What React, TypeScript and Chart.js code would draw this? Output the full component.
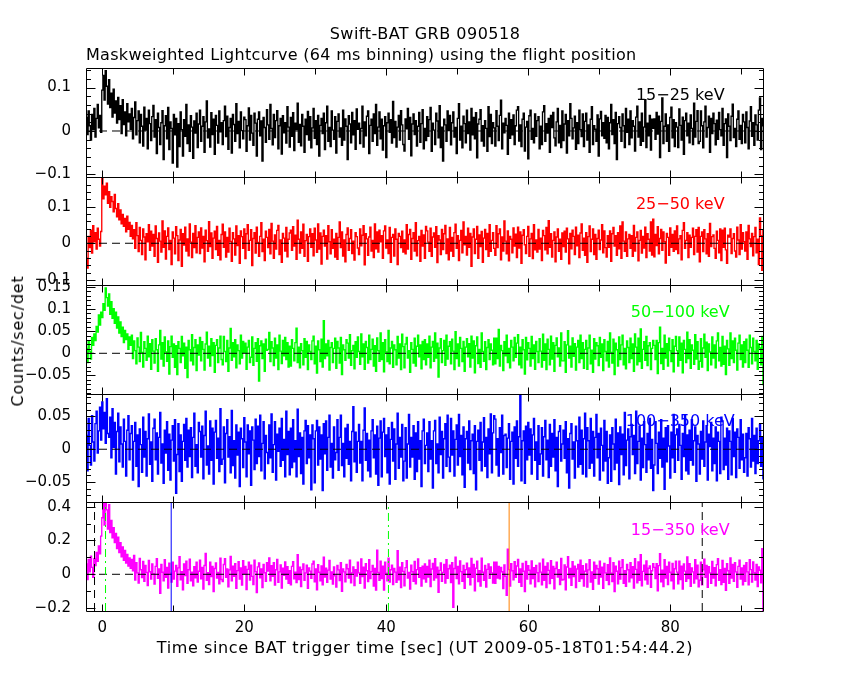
import React, { useEffect, useRef } from 'react';
import { Chart, registerables } from 'chart.js';

Chart.register(...registerables);

// Light-curve bins (re-binned for drawing): start time and bin width in seconds
const BIN_START = -2.24;
const BIN_WIDTH = 0.16;

// Counts/sec/det per band (20 bins = 3.2 s per row)
const RATE_15_25 = [
  .031,-.008,.046,.012,-.021,.038,.004,.052,-.014,.029,.061,.007,.036,-.003,.094,.128,.071,.139,.103,.062,
  .118,.054,.087,.032,.096,.041,.069,.018,.077,.026,.058,-.006,.072,.015,.044,-.011,.063,.021,.039,.004,
  .052,-.018,.031,.067,-.009,.024,.046,-.027,.038,.011,-.035,.055,.002,.029,-.041,.048,.017,-.022,.033,.059,
  -.014,.026,-.052,.041,.008,-.031,.019,.047,-.066,.012,.035,-.018,.054,-.043,.021,.006,-.074,.038,-.009,.029,
  -.083,.017,-.036,.044,.003,-.058,.026,-.012,.061,-.029,.014,-.047,.035,.009,-.063,.023,-.005,.041,-.038,.016,
  .048,-.024,.011,.033,-.049,.021,.069,-.016,.005,-.037,.042,-.008,.027,-.054,.036,.013,-.028,.046,-.002,.019,
  -.031,.024,.057,-.013,.034,-.042,.008,.029,-.051,.038,.015,-.024,.063,-.006,.022,-.039,.044,.001,-.018,.032,
  .026,-.047,.012,.053,-.021,.036,-.005,-.033,.041,.018,-.058,.027,.044,-.011,.023,-.069,.031,.008,-.026,.049,
  .014,-.019,.061,.006,-.032,.038,-.015,.024,.047,-.041,.012,.029,-.053,.035,-.004,.019,-.028,.056,.009,-.037,
  .031,-.012,.042,-.045,.018,.003,.064,-.026,.015,-.034,.038,.011,-.049,.027,-.008,.045,-.021,.033,-.039,.007,
  .052,-.017,.024,-.031,.036,-.058,.013,.029,-.006,.041,-.043,.019,.057,-.024,.008,-.036,.046,.002,-.019,.033,
  -.051,.022,.039,-.014,.007,-.033,.048,-.021,.028,.011,-.066,.035,.016,-.027,.043,-.009,.024,-.042,.051,.004,
  .018,-.029,.006,.057,-.037,.021,-.011,.034,.046,-.052,.013,.027,-.024,.039,-.006,.061,-.033,.009,.044,-.018,
  .027,-.044,.012,.033,-.061,.019,.041,-.003,.026,-.028,.068,-.015,.022,-.037,.009,.036,-.021,.047,.014,-.031,
  -.046,.028,.005,.052,-.019,.031,-.057,.016,.039,-.008,.024,-.035,.011,.043,-.026,.017,.049,-.041,.006,-.022,
  .033,-.012,.026,.054,-.047,.018,.002,-.031,.041,.023,-.016,.058,-.038,.009,-.069,.027,.014,-.024,.046,.001,
  .036,-.032,.019,.044,-.014,.008,-.052,.029,.063,-.021,.011,-.039,.034,.017,-.027,.048,-.006,.021,-.044,.052,
  -.009,.031,-.018,.042,-.062,.016,.027,.049,-.023,.012,-.035,.024,.006,-.047,.056,-.013,.038,-.029,.019,.007,
  -.035,.047,.011,-.022,.036,.071,-.041,.018,-.004,.029,.013,-.054,.041,-.017,.026,-.009,.037,-.031,.012,.048,
  .056,-.023,.014,-.036,.027,.041,-.046,.009,.022,-.064,.035,.048,-.019,.006,-.027,.039,-.012,.024,.033,-.041,
  .011,-.031,.044,.058,-.024,.017,-.005,.029,-.049,.036,.008,.043,-.016,-.034,.021,.052,-.027,.013,-.038,.046,
  -.022,.016,.038,-.051,.024,-.011,.063,.029,-.018,.007,.034,-.042,.019,-.029,.048,.003,-.013,.039,-.036,.022,
  .041,-.021,.014,-.049,.027,.056,-.031,.012,.004,-.024,.037,-.058,.028,.045,-.011,.019,-.017,.036,-.027,.031,
  -.041,.019,.061,-.008,.026,-.029,.043,-.066,.017,.033,.008,-.024,.039,.012,-.038,.052,-.003,.027,-.031,.046,
  -.016,.024,.011,-.046,.032,.057,-.014,.021,-.033,.041,-.024,.009,.072,-.038,.018,-.011,.036,-.044,.027,.006,
  .028,-.019,.043,-.007,.034,-.061,.022,.076,-.029,.011,.039,-.024,.014,-.047,.031,.055,-.016,.026,-.036,.019,
  .009,-.038,.051,.013,-.021,.032,-.054,.024,.041,-.011,.018,-.027,.037,.006,-.031,.064,-.014,.022,.047,-.029,
  -.024,.046,.012,-.039,.021,.057,-.014,.008,.034,-.049,.029,-.006,.041,.017,-.032,.025,-.019,.043,.003,-.011,
  .052,-.033,.017,.028,-.061,.039,.011,-.022,.034,.062,-.015,.006,-.036,.027,.046,-.019,.013,-.029,.038,.021,
  -.027,.044,.008,-.041,.023,.056,-.012,.019,-.033,.037,.014,-.021,.048,.076,-.043,.029,.012,-.024,.034,.019,
];

const RATE_25_50 = [
  -.041,-.068,.019,-.012,.036,-.027,.048,.004,.029,-.016,.041,.011,-.008,.032,.178,.121,.156,.132,.164,.109,
  .141,.098,.127,.114,.086,.133,.095,.072,.108,.064,.091,.053,.079,.046,.068,.031,.074,.038,.057,.019,
  .049,.012,.037,-.014,.056,.021,-.023,.043,.008,-.031,.039,.017,-.045,.026,.004,.051,-.019,.033,-.008,.024,
  -.036,.047,.013,-.052,.028,.006,-.024,.061,-.011,.034,-.043,.019,.042,-.017,.008,-.058,.031,.014,-.029,.045,
  .021,-.047,.009,.038,-.063,.026,-.005,.044,-.021,.012,-.034,.053,.003,-.039,.027,-.012,.048,-.026,.016,.031,
  -.028,.042,-.013,.019,-.051,.036,.007,-.022,.059,-.009,.028,-.041,.014,.033,-.017,.046,-.033,.008,-.045,.024,
  .052,-.011,.031,-.038,.016,-.024,.041,.005,-.049,.029,.012,-.032,.047,-.006,.021,-.055,.034,.018,-.014,.039,
  -.042,.026,.051,-.019,.008,.037,-.061,.013,.029,-.027,.044,.002,-.036,.019,.056,-.023,.011,-.047,.033,.016,
  -.012,.038,-.029,.054,.006,-.041,.023,-.016,.035,.049,-.031,.009,-.052,.027,.014,-.021,.043,-.037,.011,.028,
  .036,-.019,.045,-.008,.022,-.044,.063,.011,-.027,.031,-.014,.052,-.036,.007,.024,-.049,.018,.039,-.011,.026,
  -.034,.041,.009,-.025,.053,-.016,.028,-.057,.019,.036,-.008,.021,-.043,.048,.004,-.029,.037,-.014,.011,-.038,
  .027,-.044,.016,.058,-.012,.031,-.035,.009,-.051,.024,.042,-.019,.013,.037,-.028,.006,-.046,.029,.018,-.013,
  -.031,.039,-.007,.022,.048,-.059,.026,.012,-.033,.017,.044,-.021,.008,-.039,.053,-.015,.031,-.024,.036,.004,
  .021,-.041,.034,.047,-.013,.009,-.028,.043,-.052,.016,.024,-.035,.039,.011,-.058,.027,.019,-.012,.033,-.024,
  .009,-.029,.051,-.016,.024,.038,-.044,.013,.029,-.021,.056,-.034,.007,.019,-.049,.035,-.008,.023,-.041,.046,
  .034,.003,-.022,.041,-.036,.017,.028,-.011,.045,-.053,.021,.009,-.031,.038,-.017,.026,.049,-.028,.012,-.045,
  .043,-.021,.016,-.036,.029,.052,-.014,.021,-.047,.008,.035,-.026,.058,-.004,.019,-.032,.041,-.011,.027,-.063,
  .017,.039,-.028,.011,.046,-.041,.023,-.009,.032,-.052,.014,.038,-.017,.027,-.036,.051,-.022,.008,.029,-.014,
  -.033,.048,-.012,.026,.039,-.045,.017,-.021,.061,.006,-.029,.034,-.048,.019,.011,-.026,.042,-.008,.025,-.039,
  .044,-.013,.031,-.055,.022,.037,-.004,-.028,.019,.046,-.036,.012,.027,-.042,.051,-.018,.009,-.024,.038,-.016,
  .014,-.047,.035,.021,-.018,.043,-.029,.062,-.011,.026,-.038,.008,.031,-.051,.017,.039,-.022,.011,-.044,.028,
  -.009,.033,-.024,.041,.012,-.056,.027,-.015,.036,.019,-.031,.044,-.007,.022,-.039,.028,.053,-.019,.014,-.033,
  .029,-.052,.018,.047,-.023,.011,.039,-.031,.024,-.044,.013,.036,-.017,.009,.051,-.026,.034,-.012,-.038,.021,
  -.011,.034,-.049,.026,.043,-.008,.021,-.033,.029,-.015,.047,-.041,.058,.006,-.022,.031,-.036,.012,.024,-.014,
  .021,-.036,.049,-.021,.016,.031,-.048,.008,.035,-.027,.019,-.013,.044,-.039,.026,.011,-.021,.058,-.032,.066,
  -.037,.024,-.006,.045,-.029,.013,.038,-.019,.031,.004,-.054,.027,.016,-.033,.042,-.011,.024,-.022,.034,-.017,
  .047,-.028,.012,.021,-.045,.035,.056,-.014,.008,.029,-.039,.022,-.011,.016,.041,-.031,.019,.037,-.024,.043,
  -.051,.019,.031,-.023,.037,.012,-.029,.026,-.036,.054,-.009,.018,.023,-.014,-.041,.033,.008,-.026,.039,-.047,
  .036,-.011,.041,-.018,-.055,.022,.017,.039,-.028,.013,.026,-.021,-.038,.044,.009,-.031,.051,-.016,.029,.004,
  -.021,.031,-.044,.049,.012,-.009,.027,-.034,.018,.043,-.026,.011,-.058,.069,.021,-.074,.036,.014,-.028,.019,
];

const RATE_50_100 = [
  .011,-.021,.027,.004,-.013,.036,.018,.044,.029,.061,.048,.087,.064,.093,.081,.112,.097,.148,.126,.107,
  .134,.088,.117,.079,.101,.068,.093,.057,.082,.046,.071,.038,.059,.024,.052,.031,.044,.009,.037,.018,
  .041,-.012,.028,.006,-.024,.035,.014,-.019,.047,.002,-.031,.026,.011,-.016,.039,-.008,.022,-.036,.031,.005,
  -.022,.033,.008,-.041,.019,.052,-.013,.024,-.029,.037,.003,-.018,.028,-.047,.015,.039,-.009,.021,-.032,.017,
  -.048,.026,.011,-.021,.038,-.006,.023,-.034,.014,-.055,.029,.008,-.017,.042,-.026,.013,.031,-.039,.019,-.004,
  .036,-.017,.026,.009,-.038,.021,.048,-.011,.016,-.029,.033,-.005,.024,-.043,.018,.031,-.021,.012,.039,-.014,
  -.026,.038,.004,-.019,.029,-.041,.012,.056,-.016,.024,-.008,.031,-.033,.019,.006,-.024,.041,-.011,.027,.002,
  .023,-.036,.014,.029,-.021,-.009,.037,-.027,.011,.024,-.018,.033,-.063,.017,.028,-.012,.021,-.041,.032,.007,
  .009,.047,-.019,.026,.012,-.028,.034,-.011,.019,-.037,.041,.005,-.023,.029,-.006,.036,-.014,.024,-.031,.016,
  -.029,.031,.011,-.017,.024,.057,-.021,.014,-.033,.022,.006,-.026,.033,-.009,.027,-.037,.019,.004,-.014,.028,
  .039,-.024,.016,-.045,.028,.008,-.019,.032,-.031,.074,-.012,.021,-.006,.029,-.038,.013,.024,-.021,.011,.034,
  -.034,.027,.012,-.022,.036,-.048,.019,.008,-.016,.031,.023,-.011,.042,-.027,.006,.018,-.035,.026,-.009,.037,
  .004,-.025,.044,-.008,.021,-.036,.027,.013,-.022,.041,-.014,.009,.032,-.029,.017,-.041,.035,.006,-.018,.046,
  -.014,.024,-.042,.031,.003,-.019,.052,-.024,.012,.027,-.032,.019,.008,-.026,.038,-.011,.021,-.037,.043,.015,
  -.033,.021,.036,-.011,.006,-.043,.024,.009,-.022,.034,-.029,.016,.041,-.008,.019,-.035,.027,-.014,.031,-.026,
  .021,-.009,.039,-.033,.014,.027,-.018,.046,-.011,.023,-.054,.012,.033,-.021,.006,.029,-.027,.041,-.013,.016,
  .026,-.024,.032,.005,-.037,.049,-.012,.021,-.029,.036,.011,-.019,.027,-.041,.014,.033,-.008,.022,-.031,.039,
  -.011,.028,-.044,.017,.037,-.023,.009,-.032,.046,.004,-.018,.026,-.037,.013,.031,-.014,.021,.007,-.026,.034,
  -.024,.034,-.012,.054,-.029,.018,.006,-.039,.026,-.006,.041,-.021,.011,-.033,.029,.014,-.017,.036,-.009,.023,
  .042,-.026,.014,-.033,.031,.008,-.047,.036,-.015,.024,.011,-.029,.038,-.012,.019,-.036,.027,.004,-.021,.033,
  .005,-.031,.043,-.016,.021,-.037,.032,.009,-.026,.039,-.013,.024,-.041,.018,.035,-.008,.012,-.029,.046,-.017,
  -.017,.026,-.043,.019,.051,-.011,.016,-.031,.035,-.007,.022,-.038,.014,.029,-.021,.041,-.012,.024,-.034,.009,
  .029,-.036,.012,.041,-.024,.007,-.043,.033,-.013,.024,.017,-.028,.036,-.009,.021,-.039,.031,.004,-.017,.027,
  -.031,.046,.002,-.022,.032,-.048,.023,.008,-.029,.037,-.014,.019,.041,-.026,.011,-.035,.028,.013,-.021,.034,
  -.012,.021,-.041,.044,.014,-.026,.034,-.019,.055,-.034,.009,.026,-.016,.038,-.028,.017,.024,-.037,.011,.029,
  .018,-.014,.029,-.046,.024,.059,-.023,.011,-.036,.041,-.011,.022,-.029,.034,.006,-.019,.031,-.042,.016,.038,
  .006,-.029,.037,-.016,.023,-.044,.029,.009,-.021,.048,-.012,.031,-.034,.019,.007,-.025,.042,-.013,.026,-.036,
  -.018,.033,-.031,.012,.043,-.009,.025,-.039,.021,.003,-.026,.037,-.011,.019,-.033,.028,.046,-.017,.013,-.029,
  .038,-.025,.016,-.048,.029,.010,-.027,.046,-.012,.028,-.021,.034,.007,-.038,.023,.041,-.014,.019,-.031,.026,
  -.021,.032,.007,-.032,.041,.013,-.024,.034,.004,-.017,.029,-.036,.021,.012,-.026,.038,-.071,.019,-.009,.022,
];

const RATE_100_350 = [
  .021,-.033,.047,.006,-.024,.051,.011,-.018,.039,.058,-.006,.028,.064,.014,.072,.031,.056,.009,.077,.024,
  .018,.049,-.013,.062,.003,.041,-.038,.027,.055,-.019,.034,.008,-.027,.046,.012,-.041,.029,.051,-.016,.024,
  .036,-.047,.012,.041,-.026,.022,-.057,.031,.007,-.035,.049,-.012,.027,-.041,.016,.054,-.023,.011,-.049,.032,
  .046,-.016,.025,-.038,.018,.056,-.021,.008,-.052,.029,-.006,.042,-.032,.023,-.047,.014,.036,-.018,.045,-.067,
  -.008,.039,-.034,.022,-.049,.012,.038,-.017,.047,-.027,.029,-.011,.033,-.043,.018,.055,-.026,.007,-.036,.041,
  .027,-.012,.035,-.045,.021,.058,-.024,.005,-.038,.043,-.017,.032,-.053,.026,.044,-.014,.017,-.034,.062,-.023,
  -.015,.034,-.051,.024,.045,-.012,.019,-.036,.059,-.025,.013,-.044,.037,-.009,.026,-.057,.032,.016,-.028,.048,
  .011,-.042,.037,-.007,.028,-.055,.034,.014,-.031,.046,-.022,.035,-.011,.052,-.033,.009,.042,-.045,.021,-.005,
  -.022,.037,-.013,.054,-.035,.007,.042,-.047,.023,-.003,.032,-.026,.047,-.017,.015,-.042,.058,-.008,.027,-.039,
  .032,-.028,.045,-.019,.013,-.042,.061,-.011,.025,-.037,.018,-.053,.028,.044,-.022,.036,-.013,.022,-.062,.037,
  .016,-.051,.028,.044,-.024,.034,-.015,.022,-.063,.039,-.007,.043,-.032,.018,.052,-.027,.009,-.044,.034,-.016,
  -.005,.045,-.032,.018,.052,-.025,.009,-.042,.032,-.014,.038,-.023,.012,-.048,.027,.065,-.019,.026,-.035,.012,
  .038,-.021,.012,-.048,.029,.063,-.017,.024,-.033,.014,-.042,.028,.045,-.013,.022,-.038,.035,-.055,.017,.043,
  -.042,.026,.047,-.011,.022,-.036,.033,-.053,.015,.041,-.018,.031,-.046,.008,.055,-.029,.018,-.012,.038,-.048,
  -.018,.033,-.044,.008,.053,-.027,.018,-.012,.036,-.046,.025,-.034,.042,-.015,.013,-.057,.028,.046,-.022,.006,
  .025,-.034,.042,-.015,.013,-.059,.028,.044,-.022,.008,-.036,.049,-.008,.027,-.044,.016,.039,-.026,.052,-.012,
  -.034,.047,-.009,.028,-.041,.015,.037,-.024,.053,-.011,.021,-.039,.034,-.058,.016,.027,-.021,.043,-.031,.013,
  .023,-.037,.036,-.062,.012,.029,-.017,.041,-.033,.011,.048,-.026,.018,-.043,.031,-.007,.054,-.036,.025,.051,
  .046,-.024,.016,-.041,.033,-.005,.052,-.038,.021,.023,-.028,.017,.039,-.046,.012,.026,-.053,.034,-.014,.043,
  -.026,.019,.084,-.048,.013,.028,-.052,.035,-.016,.041,-.009,.031,-.038,.022,.047,-.017,.011,-.046,.036,-.023,
  -.007,.033,-.041,.019,.044,-.016,.014,-.043,.038,-.026,.024,-.012,.045,-.033,.018,-.057,.027,.036,-.018,.008,
  .029,-.014,.042,-.036,.016,-.059,.024,.039,-.015,.011,-.044,.035,.013,-.027,.049,-.023,.029,-.038,.016,.055,
  -.042,.033,.013,-.029,.047,-.021,.027,-.041,.018,.053,-.013,.024,-.047,.032,.006,-.033,.044,-.018,.027,-.052,
  -.013,.022,-.049,.033,.008,-.031,.046,-.021,.025,-.054,.034,-.008,.023,-.039,.056,-.025,.014,.031,-.045,.019,
  .038,-.008,.021,-.037,.058,-.022,.012,.035,-.047,.017,-.028,.042,.007,-.035,.024,-.016,.047,-.029,.015,-.063,
  -.024,.042,.009,-.037,.026,-.014,.045,-.027,.017,-.061,.033,-.019,.036,.005,-.044,.026,-.013,.053,-.035,.022,
  .031,-.017,.038,.006,-.046,.024,-.011,.051,-.033,.022,-.038,.029,-.017,.045,-.024,.013,.034,-.049,.021,.008,
  -.038,.027,-.015,.043,-.026,.011,.036,-.047,.023,.004,.041,-.033,.017,-.022,.034,-.048,.026,.012,-.037,.049,
  .043,-.031,.017,-.024,.032,-.046,.028,.012,-.039,.047,-.011,.026,-.043,.031,.018,-.029,.045,-.016,.023,-.035,
  -.013,.024,-.041,.033,.016,-.027,.047,-.018,.021,-.037,.032,-.022,.013,.038,-.026,.019,-.045,.027,.008,-.018,
];

const RATE_15_350 = [
  .062,-.031,.088,.014,.107,.041,-.018,.093,.052,.129,.076,.168,.121,.226,.334,.452,.291,.436,.381,.268,
  .412,.247,.318,.215,.276,.188,.241,.152,.219,.128,.187,.104,.162,.083,.141,.067,.118,.049,.097,.036,
  .088,.021,.112,-.034,.069,.008,-.052,.094,.027,-.019,.076,-.041,.053,.011,-.067,.082,.015,-.028,.061,.004,
  -.058,.047,.093,-.024,.031,-.112,.058,.012,-.039,.086,-.018,.041,-.081,.066,.007,-.046,.072,-.029,.019,.053,
  -.071,.038,.104,-.033,.016,-.092,.061,-.008,.077,-.054,.027,.089,-.038,.012,-.068,.045,-.021,.071,-.046,.018,
  .083,-.027,.041,-.088,.052,.124,-.035,.009,-.061,.072,-.014,.046,-.102,.034,.067,-.023,.011,-.057,.095,-.031,
  -.043,.058,.092,-.018,.031,-.074,.026,.106,-.039,.048,-.012,.063,-.083,.022,.074,-.028,.037,-.064,.081,.004,
  .046,-.091,.029,.072,-.034,.054,-.012,-.061,.083,.016,-.108,.044,.067,-.021,.031,-.079,.058,.009,-.042,.069,
  .019,.097,-.038,.051,-.012,.068,-.064,.027,.088,-.047,.014,.056,-.081,.036,-.006,.073,-.029,.045,-.053,.022,
  -.063,.047,.074,-.027,.013,-.049,.116,-.031,.042,-.072,.028,.061,-.036,.008,.054,-.083,.037,.019,-.024,.061,
  .078,-.044,.031,-.092,.057,.012,-.038,.049,-.063,.101,-.016,.036,-.047,.025,.082,-.029,.014,-.058,.043,-.009,
  -.076,.052,.026,-.037,.069,-.101,.031,.014,-.045,.058,.033,-.022,.083,-.051,.008,.044,-.066,.027,-.011,.071,
  .008,-.053,.091,-.014,.042,-.081,.063,.021,-.043,.087,-.026,.016,.052,-.069,.034,-.093,.142,.011,-.036,.078,
  -.025,.048,-.094,.071,.006,-.038,.096,-.046,.027,.054,-.061,.034,.013,-.047,.139,-.033,.042,-.078,.069,.017,
  -.068,.039,.081,-.022,.011,-.087,.054,.015,-.042,.076,-.057,.028,.091,-.018,.039,-.069,.048,-.027,.062,-.046,
  .046,-.016,.084,-.072,.031,.064,-.034,.093,-.021,.042,-.106,.023,.067,-.041,.011,.059,-.052,.086,-.024,.033,
  .054,-.049,.069,-.196,.034,.101,-.026,.047,-.057,.079,.016,-.041,.052,-.083,.028,.066,-.018,.038,-.063,.094,
  -.018,.059,-.097,.036,.078,-.043,.021,-.069,.095,.012,-.035,.053,-.076,.029,.061,-.024,.043,.008,-.052,.071,
  -.053,.072,-.023,.046,-.027,.041,.015,-.084,.056,-.012,-.124,.148,.028,-.069,.063,.021,-.033,.074,-.018,.049,
  .088,-.048,.032,-.071,.064,.018,-.102,.076,-.028,.051,.024,-.057,.079,-.025,.039,-.074,.053,.009,-.043,.066,
  .013,-.062,.089,-.035,.047,-.078,.067,.023,-.055,.081,-.024,.046,-.086,.034,.072,-.016,.027,-.061,.094,-.034,
  -.031,.056,-.092,.043,.104,-.021,.035,-.065,.074,-.013,.048,-.079,.031,.059,-.041,.083,-.026,.051,-.069,.018,
  .062,-.075,.026,.087,-.046,.014,-.089,.071,-.024,.053,.033,-.058,.077,-.017,.042,-.083,.064,.008,-.036,.057,
  -.061,.097,.006,-.043,.068,-.102,.048,.018,-.056,.078,-.029,.039,.086,-.053,.022,-.071,.058,.027,-.044,.069,
  -.021,.045,-.082,.092,.029,-.051,.073,-.036,.116,-.068,.017,.054,-.033,.079,-.058,.036,.049,-.077,.021,.063,
  .041,-.026,.063,-.097,.051,.122,-.045,.025,-.072,.087,-.022,.046,-.061,.071,.012,-.039,.064,-.086,.033,.078,
  .013,-.056,.078,-.031,.048,-.087,.061,.019,-.041,.102,-.026,.063,-.071,.038,.014,-.052,.086,-.027,.054,-.074,
  -.035,.071,-.062,.026,.089,-.018,.053,-.077,.045,.008,-.054,.076,-.023,.039,-.068,.057,.093,-.036,.027,-.061,
  .082,-.048,.035,-.095,.063,.021,-.053,.097,-.023,.058,-.042,.068,.014,-.077,.047,.083,-.029,.038,-.062,.052,
  -.041,.068,.014,-.063,.087,.028,-.046,.073,.009,-.034,.059,-.072,.043,.024,-.051,.152,-.218,.039,-.018,.044,
];

const BAND_SERIES = [RATE_15_25, RATE_25_50, RATE_50_100, RATE_100_350, RATE_15_350];
const BAND_LABELS = ['15\u221225 keV', '25\u221250 keV', '50\u2212100 keV', '100\u2212350 keV', '15\u2212350 keV'];
const BAND_COLORS = ['#000000', '#ff0000', '#00ff00', '#0000ff', '#ff00ff'];

// Axis ranges and tick values
const X_MIN = -2.3;
const X_MAX = 93.2;
const X_LABELED_TICKS = [0, 20, 40, 60, 80];
const X_ALL_TICKS = [0, 10, 20, 30, 40, 50, 60, 70, 80, 90];
const Y_MIN = [-0.105, -0.1145, -0.0916, -0.081, -0.217];
const Y_MAX = [0.145, 0.182, 0.154, 0.0845, 0.425];
const Y_LABELED_TICKS = [
  [-0.1, 0, 0.1],
  [-0.1, 0, 0.1],
  [-0.05, 0, 0.05, 0.1, 0.15],
  [-0.05, 0, 0.05],
  [-0.2, 0, 0.2, 0.4],
];
const Y_MINOR_STEP = [0.02, 0.02, 0.01, 0.01, 0.1];

// Vertical marker lines in the 15-350 keV panel (seconds)
const MARKER_TIMES = [-1.1, 0.45, 9.7, 40.3, 57.3, 84.5];
const MARKER_COLORS = ['#000000', '#00ff00', '#0000ff', '#00ff00', '#ff8000', '#000000'];
const MARKER_DASHES = [[8, 5], [8, 4, 2, 4], [], [8, 4, 2, 4], [], [8, 5]];

const LABEL_TIME = 81.4;
const FONT = '"DejaVu Sans", sans-serif';
const X_TITLE = 'Time since BAT trigger time [sec] (UT 2009-05-18T01:54:44.2)';

const fmt = (v: number) => {
  const s = String(Math.round(v * 1000) / 1000);
  return s.replace('-', '\u2212');
};

const panelPlugin = {
  id: 'panelFrames',
  beforeDatasetDraw(chart: any, args: any) {
    const ys = chart.scales[args.meta.yAxisID];
    const { left, right } = chart.chartArea;
    const ctx = chart.ctx;
    ctx.save();
    ctx.beginPath();
    ctx.rect(left, ys.top, right - left, ys.bottom - ys.top);
    ctx.clip();
  },
  afterDatasetDraw(chart: any) {
    chart.ctx.restore();
  },
  afterDatasetsDraw(chart: any) {
    const ctx = chart.ctx;
    const xs = chart.scales.x;
    const { left, right } = chart.chartArea;
    const L = Math.round(left) + 0.5;
    const R = Math.round(right) - 0.5;
    BAND_SERIES.forEach((_, k) => {
      const ys = chart.scales['y' + k];
      const T = Math.round(ys.top) + 0.5;
      const B = Math.round(ys.bottom) + 0.5;
      ctx.save();
      // band label
      ctx.font = '16px ' + FONT;
      ctx.fillStyle = BAND_COLORS[k];
      ctx.textAlign = 'center';
      ctx.textBaseline = 'middle';
      ctx.fillText(BAND_LABELS[k], xs.getPixelForValue(LABEL_TIME), ys.top + 28);
      // frame
      ctx.strokeStyle = '#000';
      ctx.lineWidth = 1;
      ctx.beginPath();
      ctx.rect(L, T, R - L, B - T);
      // x ticks (inside, top and bottom)
      X_ALL_TICKS.forEach((t) => {
        const px = Math.round(xs.getPixelForValue(t)) + 0.5;
        const len = t % 20 === 0 ? 7 : 6;
        ctx.moveTo(px, T);
        ctx.lineTo(px, T + len);
        ctx.moveTo(px, B);
        ctx.lineTo(px, B - len);
      });
      // y ticks (inside, left and right)
      const step = Y_MINOR_STEP[k];
      const start = Math.ceil(Y_MIN[k] / step - 1e-6);
      const end = Math.floor(Y_MAX[k] / step + 1e-6);
      for (let n = start; n <= end; n++) {
        const v = n * step;
        const major = Y_LABELED_TICKS[k].some((m) => Math.abs(m - v) < 1e-6);
        const len = major ? 9 : 4.5;
        const py = Math.round(ys.getPixelForValue(v)) + 0.5;
        ctx.moveTo(L, py);
        ctx.lineTo(L + len, py);
        ctx.moveTo(R, py);
        ctx.lineTo(R - len, py);
      }
      ctx.stroke();
      ctx.restore();
    });
  },
};

function buildConfig(): any {
  const datasets: any[] = [];
  // marker lines (on top)
  MARKER_TIMES.forEach((t, i) => {
    datasets.push({
      data: [{ x: t, y: Y_MIN[4] }, { x: t, y: Y_MAX[4] }],
      yAxisID: 'y4',
      borderColor: MARKER_COLORS[i],
      borderWidth: 1,
      borderDash: MARKER_DASHES[i],
      pointRadius: 0,
      order: 0,
    });
  });
  // zero lines
  BAND_SERIES.forEach((_, k) => {
    datasets.push({
      data: [{ x: X_MIN, y: 0 }, { x: X_MAX, y: 0 }],
      yAxisID: 'y' + k,
      borderColor: '#000',
      borderWidth: 1,
      borderDash: [8, 5],
      pointRadius: 0,
      order: 1,
    });
  });
  // light curves (histogram style)
  BAND_SERIES.forEach((arr, k) => {
    datasets.push({
      label: BAND_LABELS[k],
      data: arr.map((y, i) => ({ x: BIN_START + i * BIN_WIDTH, y })),
      yAxisID: 'y' + k,
      borderColor: BAND_COLORS[k],
      borderWidth: 1.35,
      stepped: 'middle',
      pointRadius: 0,
      order: 2,
    });
  });

  const scales: any = {
    x: {
      type: 'linear',
      position: 'bottom',
      min: X_MIN,
      max: X_MAX,
      grid: { display: false, drawTicks: false },
      border: { display: false },
      afterBuildTicks: (s: any) => {
        s.ticks = X_LABELED_TICKS.map((v) => ({ value: v }));
      },
      afterFit: (s: any) => {
        s.height = 50;
      },
      ticks: {
        color: '#000',
        font: { family: FONT, size: 15 },
        padding: 8,
        maxRotation: 0,
        autoSkip: false,
        callback: (v: any) => fmt(Number(v)),
      },
      title: { display: false },
    },
  };
  BAND_SERIES.forEach((_, k) => {
    scales['y' + k] = {
      type: 'linear',
      position: 'left',
      stack: 'panels',
      stackWeight: 1,
      weight: 10 - k,
      min: Y_MIN[k],
      max: Y_MAX[k],
      grid: { display: false, drawTicks: false },
      border: { display: false },
      afterBuildTicks: (s: any) => {
        s.ticks = Y_LABELED_TICKS[k].map((v) => ({ value: v }));
      },
      afterFit: (s: any) => {
        s.width = 86;
      },
      ticks: {
        color: '#000',
        font: { family: FONT, size: 15 },
        padding: 15,
        autoSkip: false,
        callback: (v: any) => fmt(Number(v)),
      },
    };
  });

  return {
    type: 'line',
    data: { datasets },
    options: {
      responsive: false,
      animation: false,
      events: [],
      layout: { padding: { top: 68, right: 86, bottom: 19, left: 0 }, autoPadding: false },
      plugins: {
        legend: { display: false },
        tooltip: { enabled: false },
      },
      scales,
    },
    plugins: [panelPlugin],
  };
}

export default function App() {
  const ref = useRef<HTMLCanvasElement>(null);
  useEffect(() => {
    const chart = new Chart(ref.current as HTMLCanvasElement, buildConfig());
    return () => chart.destroy();
  }, []);
  const text: React.CSSProperties = {
    position: 'absolute',
    fontSize: 16,
    lineHeight: '16px',
    whiteSpace: 'nowrap',
    color: '#000',
  };
  return (
    <div style={{ position: 'fixed', left: 0, top: 0, width: 850, height: 680, background: '#fff', fontFamily: FONT }}>
      <canvas ref={ref} width={850} height={680} style={{ position: 'absolute', left: 0, top: 0, width: 850, height: 680 }} />
      <div style={{ ...text, left: 0, width: 850, top: 26, textAlign: 'center', letterSpacing: '0.5px' }}>Swift-BAT GRB 090518</div>
      <div style={{ ...text, left: 86, top: 47, letterSpacing: '0.3px' }}>Maskweighted Lightcurve (64 ms binning) using the flight position</div>
      <div style={{ ...text, left: 18, top: 341, letterSpacing: '0.8px', transform: 'translate(-50%, -50%) rotate(-90deg)' }}>Counts/sec/det</div>
      <div style={{ ...text, left: 0, width: 850, top: 640, textAlign: 'center', letterSpacing: '0.6px' }}>{X_TITLE}</div>
    </div>
  );
}
